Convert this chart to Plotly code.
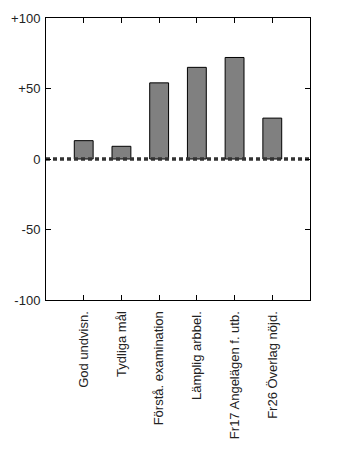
import plotly.graph_objects as go

categories = ["God undvisn.", "Tydliga mål", "Förstå. examination", "Lämplig arbbel.",
              "Fr17 Angelägen f. utb.", "Fr26 Överlag nöjd."]
values = [13, 9, 54, 65, 72, 29]
y_ticks = [-100, -50, 0, 50, 100]
y_tick_labels = ["-100", "-50", "0", "+50", "+100"]

x_pos = list(range(1, len(categories) + 1))

fig = go.Figure()
fig.add_trace(go.Bar(
    x=x_pos, y=values, width=0.5,
    marker=dict(color="#808080", line=dict(color="black", width=1)),
    showlegend=False, hoverinfo="skip",
))
fig.add_trace(go.Scatter(
    x=[0, len(categories) + 1], y=[0, 0], mode="lines",
    line=dict(color="#333333", width=3.5, dash="4px,3px"),
    showlegend=False, hoverinfo="skip",
))

fig.update_layout(
    width=354, height=472,
    margin=dict(l=46, r=44, t=18, b=172),
    paper_bgcolor="white", plot_bgcolor="white",
    font=dict(family="Liberation Sans, Arial, sans-serif", size=13, color="#222222"),
)
fig.update_xaxes(
    range=[0, len(categories) + 1],
    tickmode="array", tickvals=x_pos, ticktext=categories,
    tickangle=-90, ticks="inside", ticklen=5, tickcolor="black",
    ticklabelstandoff=5, automargin=False,
    showline=True, linecolor="black", linewidth=1, mirror="ticks",
    showgrid=False, zeroline=False,
)
fig.update_yaxes(
    range=[-100, 100],
    tickmode="array", tickvals=y_ticks, ticktext=y_tick_labels,
    ticks="inside", ticklen=5, tickcolor="black",
    ticklabelstandoff=2, automargin=False,
    showline=True, linecolor="black", linewidth=1, mirror="ticks",
    showgrid=False, zeroline=False,
)

fig.write_html("out.html")
